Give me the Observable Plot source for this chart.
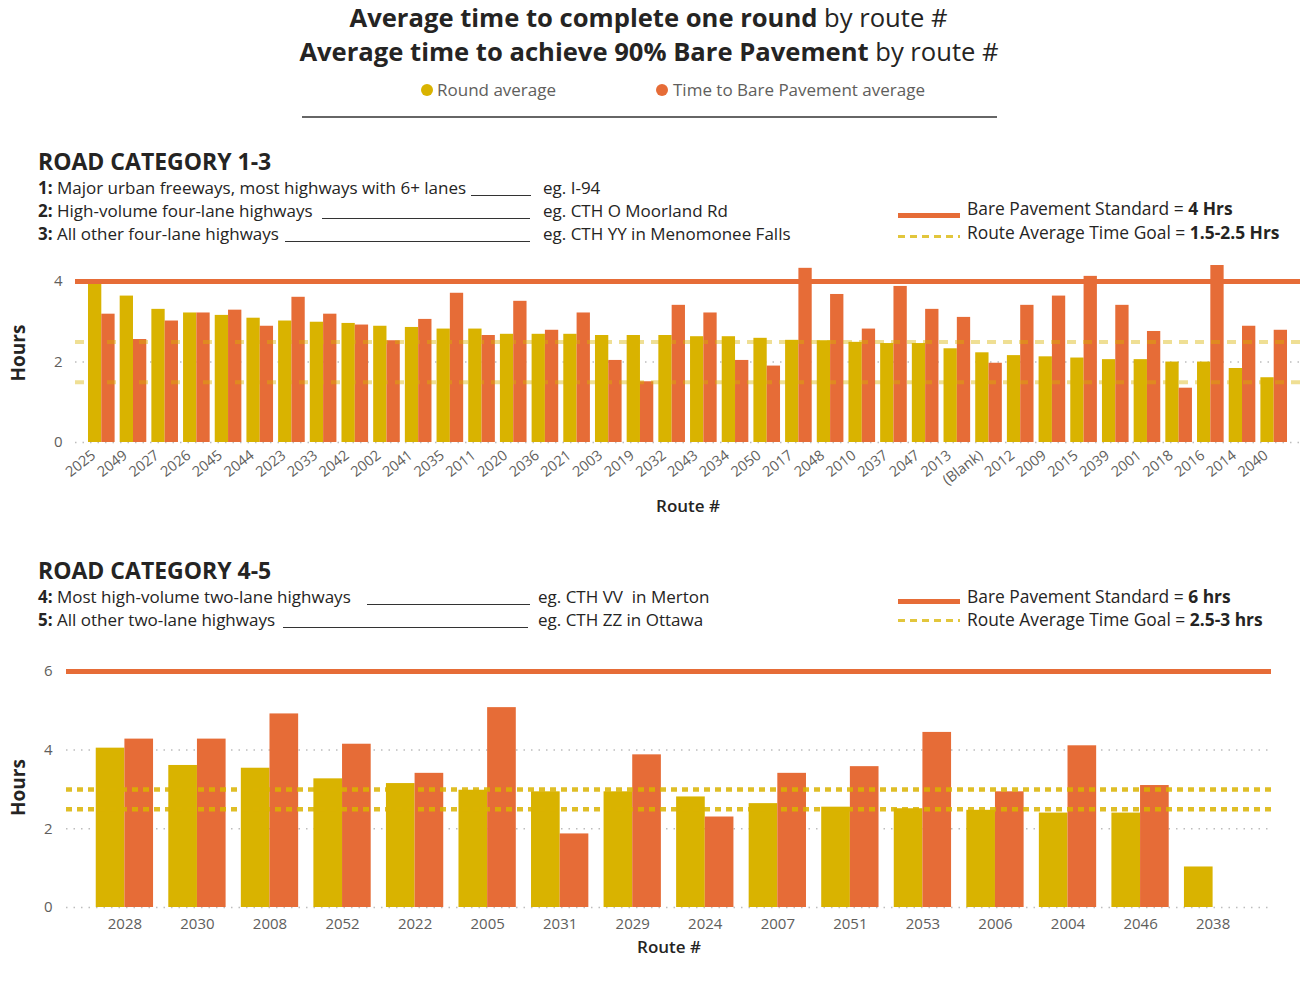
<!DOCTYPE html>
<html><head><meta charset="utf-8">
<script src="https://cdn.jsdelivr.net/npm/d3@7"></script>
<script src="https://cdn.jsdelivr.net/npm/@observablehq/plot@0.6"></script>
<style>
body{margin:0;background:#fff;font-family:"Open Sans",sans-serif;}
#page{position:relative;width:1304px;height:993px;overflow:hidden;background:#fff;}
.t{position:absolute;white-space:nowrap;color:#252423;}
.ln{position:absolute;}
</style></head><body><div id="page"></div>
<script>
const yellow = "#D9B300", orange = "#E66C37";

// ROAD CATEGORY 1-3
const routes13 = ["2025","2049","2027","2026","2045","2044","2023","2033","2042","2002","2041","2035","2011","2020","2036","2021","2003","2019","2032","2043","2034","2050","2017","2048","2010","2037","2047","2013","(Blank)","2012","2009","2015","2039","2001","2018","2016","2014","2040"];
const round13 = [3.98,3.64,3.31,3.22,3.16,3.09,3.02,2.99,2.96,2.89,2.86,2.82,2.82,2.69,2.69,2.69,2.66,2.66,2.66,2.63,2.63,2.59,2.54,2.53,2.49,2.46,2.46,2.33,2.23,2.16,2.13,2.10,2.06,2.06,2.00,2.00,1.84,1.61];
const bare13 = [3.19,2.56,3.02,3.22,3.29,2.89,3.61,3.19,2.92,2.53,3.06,3.71,2.66,3.51,2.79,3.22,2.04,1.51,3.41,3.22,2.04,1.90,4.33,3.68,2.82,3.88,3.31,3.11,1.97,3.41,3.64,4.13,3.41,2.76,1.35,4.40,2.89,2.79];
const standard13 = 4;
const goals13 = [1.5, 2.5];
const yTicks13 = [0, 2, 4];

// ROAD CATEGORY 4-5
const routes45 = ["2028","2030","2008","2052","2022","2005","2031","2029","2024","2007","2051","2053","2006","2004","2046","2038"];
const round45 = [4.05,3.61,3.54,3.27,3.15,2.98,2.94,2.94,2.81,2.64,2.55,2.51,2.47,2.40,2.40,1.03];
const bare45 = [4.28,4.28,4.92,4.15,3.41,5.08,1.87,3.88,2.30,3.41,3.58,4.45,2.94,4.11,3.10,null];
const standard45 = 6;
const goals45 = [2.5, 3];
const yTicks45 = [0, 2, 4, 6];

const page = document.getElementById("page");
function txt(html, x, base, size, opts = {}) {
  const d = document.createElement("div");
  d.className = "t";
  d.innerHTML = html;
  d.style.fontSize = size + "px";
  d.style.lineHeight = size + "px";
  d.style.top = (base - 0.888 * size) + "px";
  if (opts.center) { d.style.left = "0px"; d.style.width = opts.width + "px"; d.style.textAlign = "center"; }
  else d.style.left = x + "px";
  if (opts.weight) d.style.fontWeight = opts.weight;
  if (opts.color) d.style.color = opts.color;
  page.appendChild(d);
  return d;
}
function line(x1, x2, y, h, bg) {
  const d = document.createElement("div");
  d.className = "ln";
  d.style.left = x1 + "px"; d.style.width = (x2 - x1) + "px";
  d.style.top = (y - h / 2) + "px"; d.style.height = h + "px";
  d.style.background = bg;
  page.appendChild(d);
}
function dot(cx, cy, r, c) {
  const d = document.createElement("div");
  d.className = "ln";
  d.style.left = (cx - r) + "px"; d.style.top = (cy - r) + "px";
  d.style.width = d.style.height = (2 * r) + "px";
  d.style.borderRadius = "50%"; d.style.background = c;
  page.appendChild(d);
}
const dash = "repeating-linear-gradient(90deg, #E2C63C 0 7px, transparent 7px 12px)";

// Header
txt("<b>Average time to complete one round</b> by route #", 0, 28, 25.6, {center: true, width: 1297});
txt("<b>Average time to achieve 90% Bare Pavement</b> by route #", 0, 62, 25.6, {center: true, width: 1298});
dot(427, 90, 6, yellow);
txt("Round average", 437, 96, 17, {color: "#605E5C"});
dot(662, 90, 6, orange);
txt("Time to Bare Pavement average", 673, 96, 17, {color: "#605E5C"});
line(302, 997, 117, 2.5, "#666");

// Category 1-3 header
txt("ROAD CATEGORY 1-3", 38, 170, 23, {weight: 700});
txt("<b>1:</b> Major urban freeways, most highways with 6+ lanes", 38, 194, 17);
line(471, 531, 195, 1, "#333");
txt("eg. I-94", 543, 194, 17);
txt("<b>2:</b> High-volume four-lane highways", 38, 217, 17);
line(322, 530, 218, 1, "#333");
txt("eg. CTH O Moorland Rd", 543, 217, 17);
txt("<b>3:</b> All other four-lane highways", 38, 240, 17);
line(285, 530, 241, 1, "#333");
txt("eg. CTH YY in Menomonee Falls", 543, 240, 17);
line(898, 960, 215.5, 5, orange);
txt("Bare Pavement Standard = <b>4 Hrs</b>", 967, 215, 17.4);
line(898, 960, 236, 3, dash);
txt("Route Average Time Goal = <b>1.5-2.5 Hrs</b>", 967, 239, 17.4);

// Category 4-5 header
txt("ROAD CATEGORY 4-5", 38, 579, 23, {weight: 700});
txt("<b>4:</b> Most high-volume two-lane highways", 38, 603, 17);
line(367, 530, 604, 1, "#333");
txt("eg. CTH VV&nbsp; in Merton", 538, 603, 17);
txt("<b>5:</b> All other two-lane highways", 38, 626, 17);
line(283, 528, 627, 1, "#333");
txt("eg. CTH ZZ in Ottawa", 538, 626, 17);
line(898, 960, 601, 5, orange);
txt("Bare Pavement Standard = <b>6 hrs</b>", 967, 603, 17.4);
line(898, 960, 620, 3, dash);
txt("Route Average Time Goal = <b>2.5-3 hrs</b>", 967, 626, 17.4);

function chart(o) {
  const rows = o.routes.map((r, i) => ({route: r, round: o.round[i], bare: o.bare[i]}));
  const step = (o.width - o.marginLeft - o.marginRight) / (o.routes.length - o.pi + 2 * o.po);
  const half = step * (1 - o.pi) / 2;
  return Plot.plot({
    width: o.width, height: o.height,
    marginLeft: o.marginLeft, marginRight: o.marginRight, marginTop: o.marginTop, marginBottom: o.marginBottom,
    style: {fontFamily: "'Open Sans', sans-serif", fontSize: "14px", color: "#605E5C", background: "transparent", overflow: "visible"},
    x: {type: "band", domain: o.routes, paddingInner: o.pi, paddingOuter: o.po, round: false, axis: null},
    y: {domain: [0, o.yMax], axis: null},
    marks: [
      Plot.gridY(o.yTicks, {stroke: "#bdbdbd", strokeOpacity: 1, strokeWidth: 1.5, strokeDasharray: "1.5,6"}),
      Plot.axisY(o.yTicks, {tickSize: 0, tickPadding: o.yPad, fontSize: 15, label: null}),
      Plot.axisX({tickSize: 0, tickPadding: o.xPad, tickRotate: o.rotate, dx: o.xdx, fontSize: o.xFont, label: null}),
      Plot.barY(rows, {x: "route", y: "round", fill: yellow, insetRight: half}),
      Plot.barY(rows.filter(d => d.bare != null), {x: "route", y: "bare", fill: orange, insetLeft: half}),
      Plot.ruleY(o.goals, o.goalStyle),
      Plot.ruleY([o.standard], {stroke: orange, strokeWidth: 5}),
      Plot.text(["Hours"], {frameAnchor: "left", textAnchor: "middle", rotate: -90, dx: o.hoursDx, fontWeight: "bold", fontSize: 19, fill: "#252423"}),
      Plot.text(["Route #"], {frameAnchor: "bottom", textAnchor: "middle", dy: o.routeDy, fontWeight: 600, fontSize: 17, fill: "#252423"})
    ]
  });
}

function mount(svg, top) {
  const w = document.createElement("div");
  w.style.position = "absolute"; w.style.left = "0px"; w.style.top = top + "px";
  w.appendChild(svg);
  page.appendChild(w);
}

mount(chart({
  routes: routes13, round: round13, bare: bare13, standard: standard13, goals: goals13, yTicks: yTicks13,
  width: 1304, height: 270, marginLeft: 75, marginRight: 4, marginTop: 13, marginBottom: 78,
  yMax: 4.45, pi: 0.16, po: 0.41, yPad: 13, xPad: 11, rotate: -38, xdx: -8, xFont: 14.5,
  goalStyle: {stroke: yellow, strokeOpacity: 0.42, strokeWidth: 4, strokeDasharray: "9,7"},
  hoursDx: -57, routeDy: 69
}), 250);

mount(chart({
  routes: routes45, round: round45, bare: bare45, standard: standard45, goals: goals45, yTicks: yTicks45,
  width: 1304, height: 305, marginLeft: 66, marginRight: 33, marginTop: 12, marginBottom: 53,
  yMax: 6.1, pi: 0.21, po: 0.41, yPad: 14, xPad: 11, rotate: 0, xdx: 0, xFont: 15,
  goalStyle: {stroke: yellow, strokeOpacity: 0.85, strokeWidth: 4.5, strokeDasharray: "6,5"},
  hoursDx: -48, routeDy: 45
}), 655);
</script>
</body></html>
